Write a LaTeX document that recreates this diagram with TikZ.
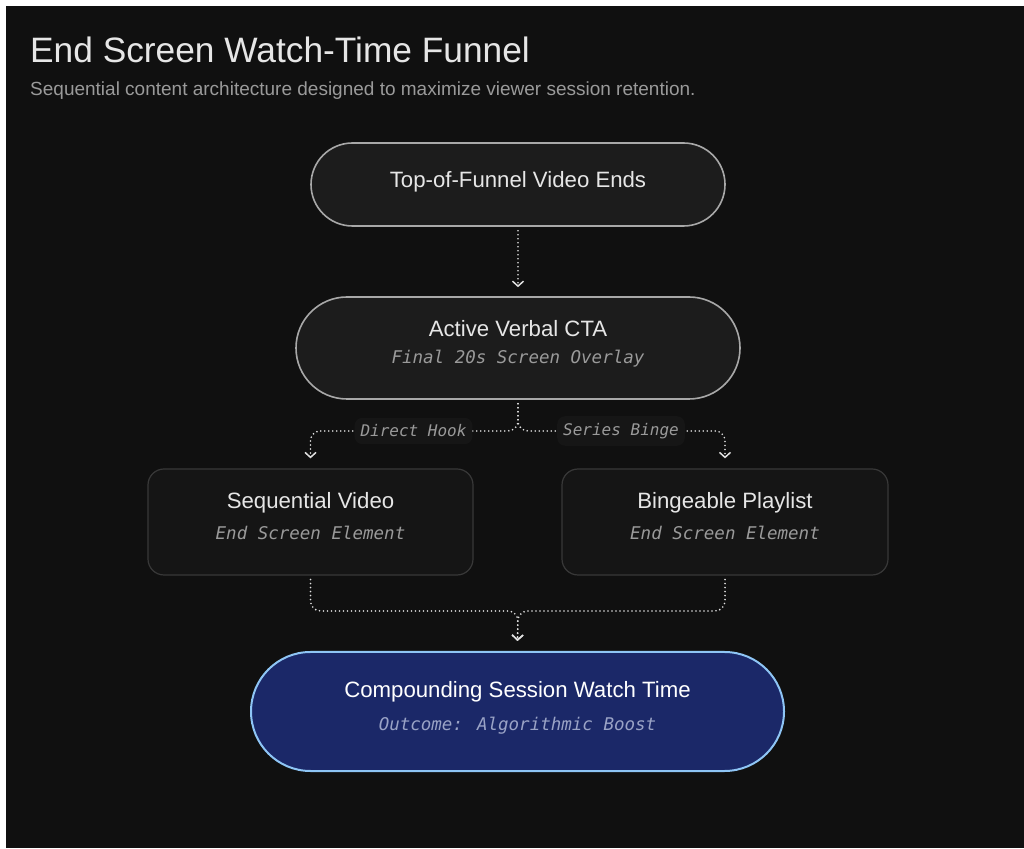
\documentclass[tikz,border=0pt]{standalone}
\usepackage{fontspec}
\setmainfont{Liberation Sans}
\newfontfamily\monoit{DejaVu Sans Mono Oblique}
\usetikzlibrary{arrows.meta}
\definecolor{bgdark}{HTML}{101010}
\definecolor{pillfill}{HTML}{1C1C1C}
\definecolor{pillline}{HTML}{A8A8A8}
\definecolor{boxfill}{HTML}{151515}
\definecolor{boxline}{HTML}{383838}
\definecolor{bluefill}{HTML}{1B2868}
\definecolor{blueline}{HTML}{8EC5F5}
\definecolor{titlecol}{HTML}{E6E6E6}
\definecolor{subcol}{HTML}{9A9A9A}
\definecolor{bluesub}{HTML}{9AA3C6}
\definecolor{dotcol}{HTML}{E0E0E0}
\definecolor{lblfill}{HTML}{161616}
\tikzset{
  x=1pt,y=1pt,
  pill/.style={draw=pillline,fill=pillfill,line width=1.6pt,inner sep=0pt},
  card/.style={draw=boxline,fill=boxfill,line width=1.2pt,rounded corners=16pt,inner sep=0pt},
  outcome/.style={draw=blueline,fill=bluefill,line width=2pt,inner sep=0pt},
  ttl/.style={text=titlecol,font=\fontsize{22.2}{26}\selectfont,inner sep=0pt},
  sub/.style={text=subcol,font=\monoit\fontsize{17.5}{20}\selectfont,inner sep=0pt},
  conn/.style={draw=dotcol,line width=1.8pt,line cap=round,dash pattern=on 0pt off 4pt,rounded corners=10pt,
    -{Straight Barb[length=5pt,width=11pt,line width=1.5pt]}},
  lbl/.style={fill=lblfill,rounded corners=8pt,text=subcol,font=\monoit\fontsize{16}{19}\selectfont,inner xsep=6pt,inner ysep=7pt},
}
\begin{document}
\begin{tikzpicture}
\useasboundingbox (0,0) rectangle (1024,848);
\fill[white] (0,0) rectangle (1024,848);
\fill[bgdark] (6,0) rectangle (1024,842);
% header
\node[anchor=west,text=titlecol,font=\fontsize{35.3}{40}\selectfont,inner sep=0pt] (title) at (30,798) {End Screen Watch-Time Funnel};
\node[anchor=west,text=subcol,font=\fontsize{19}{22}\selectfont,inner sep=0pt] (subtitle) at (30,757) {Sequential content architecture designed to maximize viewer session retention.};
% nodes
\node[pill,minimum width=414pt,minimum height=83pt,rounded corners=41.5pt] (top) at (518,663.5) {};
\node[ttl] (toptxt) at (518,666) {Top-of-Funnel Video Ends};
\node[pill,minimum width=444pt,minimum height=102pt,rounded corners=51pt] (cta) at (518,500) {};
\node[ttl] (ctatxt) at (518,519) {Active Verbal CTA};
\node[sub] (ctasub) at (518,489) {Final 20s Screen Overlay};
\node[card,minimum width=325pt,minimum height=106pt] (seq) at (310.5,326) {};
\node[ttl] (seqtxt) at (310.5,345) {Sequential Video};
\node[sub] (seqsub) at (310.5,315) {End Screen Element};
\node[card,minimum width=326pt,minimum height=106pt] (binge) at (725,326) {};
\node[ttl] (bingetxt) at (725,345) {Bingeable Playlist};
\node[sub] (bingesub) at (725,315) {End Screen Element};
\node[outcome,minimum width=533pt,minimum height=119pt,rounded corners=59.5pt] (comp) at (517.5,136.5) {};
\node[ttl,text=white] (comptxt) at (517.5,156) {Compounding Session Watch Time};
\node[sub,text=bluesub] (compsub) at (517.5,122) {Outcome: Algorithmic Boost};
% connectors
\coordinate (j1) at (518,417);
\coordinate (j2) at (518,237);
\draw[conn,shorten <=4pt,shorten >=9pt] (top.south) -- (cta.north);
\draw[conn,shorten <=4pt] (cta.south) -- (j1) -| ([yshift=10pt]seq.north);
\draw[conn,shorten <=4pt] (cta.south) -- (j1) -| ([yshift=10pt]binge.north);
\draw[conn,shorten <=4pt] (seq.south) |- (j2) -- ([yshift=10pt]comp.north);
\draw[conn,shorten <=4pt] (binge.south) |- (j2) -- ([yshift=10pt]comp.north);
\node[lbl] (lbl1) at (413.5,417) {Direct Hook};
\node[lbl] (lbl2) at (621,417) {Series Binge};
\end{tikzpicture}
\end{document}
